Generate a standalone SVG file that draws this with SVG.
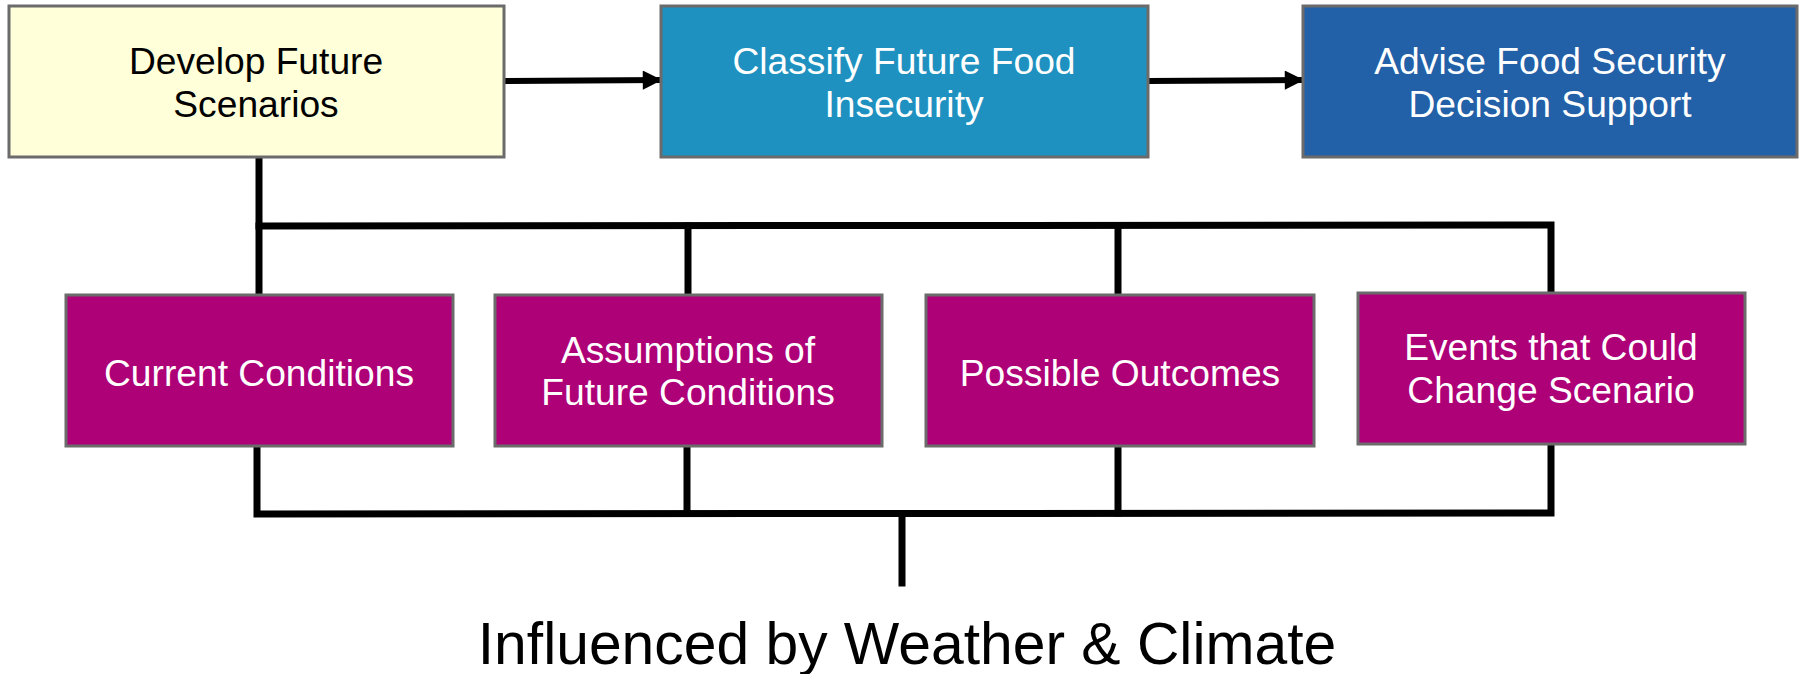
<svg xmlns="http://www.w3.org/2000/svg" width="1805" height="674" viewBox="0 0 1805 674">
  <style>
    .box { stroke: #6b6b6b; stroke-width: 3; }
    .t { font-family: "Liberation Sans", Arial, sans-serif; font-size: 37.2px; text-anchor: middle; }
    .w { fill: #ffffff; }
    .k { fill: #000000; }
    .p { fill: #ae0077; }
    .line { stroke: #000; stroke-width: 7; fill: none; stroke-linecap: square; stroke-linejoin: miter; }
    .arr { stroke: #000; stroke-width: 6; fill: none; }
  </style>
  <defs>
    <marker id="ah" viewBox="0 0 10 10" refX="10" refY="5" markerWidth="3.4" markerHeight="3.2" orient="auto" markerUnits="strokeWidth">
      <path d="M0,0 L10,5 L0,10 Z" fill="#000"/>
    </marker>
  </defs>
  <rect width="1805" height="674" fill="#ffffff"/>

  <g id="connectors">
    <line class="arr" x1="504" y1="81" x2="662" y2="80" marker-end="url(#ah)"/>
    <line class="arr" x1="1148" y1="81" x2="1304" y2="80" marker-end="url(#ah)"/>
    <polyline class="line" points="259,158 259,294"/>
    <polyline class="line" points="259,226 1551,225 1551,293"/>
    <line class="line" x1="688" y1="226" x2="688" y2="294"/>
    <line class="line" x1="1118" y1="226" x2="1118" y2="294"/>
    <polyline class="line" points="257,447 257,514 1551,513 1551,445"/>
    <line class="line" x1="687" y1="447" x2="687" y2="513"/>
    <line class="line" x1="1118" y1="447" x2="1118" y2="513"/>
    <line class="line" x1="902" y1="514" x2="902" y2="583"/>
  </g>

  <g id="develop">
    <rect class="box" x="9" y="6" width="495" height="151" fill="#ffffd9"/>
    <text class="t k" x="256" y="74">Develop Future</text>
    <text class="t k" x="256" y="117">Scenarios</text>
  </g>
  <g id="classify">
    <rect class="box" x="661" y="6" width="487" height="151" fill="#1f91c0"/>
    <text class="t w" x="904" y="74">Classify Future Food</text>
    <text class="t w" x="904" y="117">Insecurity</text>
  </g>
  <g id="advise">
    <rect class="box" x="1303" y="6" width="494" height="151" fill="#2260a8"/>
    <text class="t w" x="1550" y="74">Advise Food Security</text>
    <text class="t w" x="1550" y="117">Decision Support</text>
  </g>

  <g id="current">
    <rect class="box p" x="66" y="295" width="387" height="151"/>
    <text class="t w" x="259" y="386">Current Conditions</text>
  </g>
  <g id="assumptions">
    <rect class="box p" x="495" y="295" width="387" height="151"/>
    <text class="t w" x="688" y="363">Assumptions of</text>
    <text class="t w" x="688" y="405">Future Conditions</text>
  </g>
  <g id="outcomes">
    <rect class="box p" x="926" y="295" width="388" height="151"/>
    <text class="t w" x="1120" y="386">Possible Outcomes</text>
  </g>
  <g id="events">
    <rect class="box p" x="1358" y="293" width="387" height="151"/>
    <text class="t w" x="1551" y="360">Events that Could</text>
    <text class="t w" x="1551" y="403">Change Scenario</text>
  </g>

  <g id="influence">
    <text x="907" y="664" font-family="'Liberation Sans', Arial, sans-serif" font-size="58.8" text-anchor="middle" fill="#000">Influenced by Weather &amp; Climate</text>
  </g>
</svg>
